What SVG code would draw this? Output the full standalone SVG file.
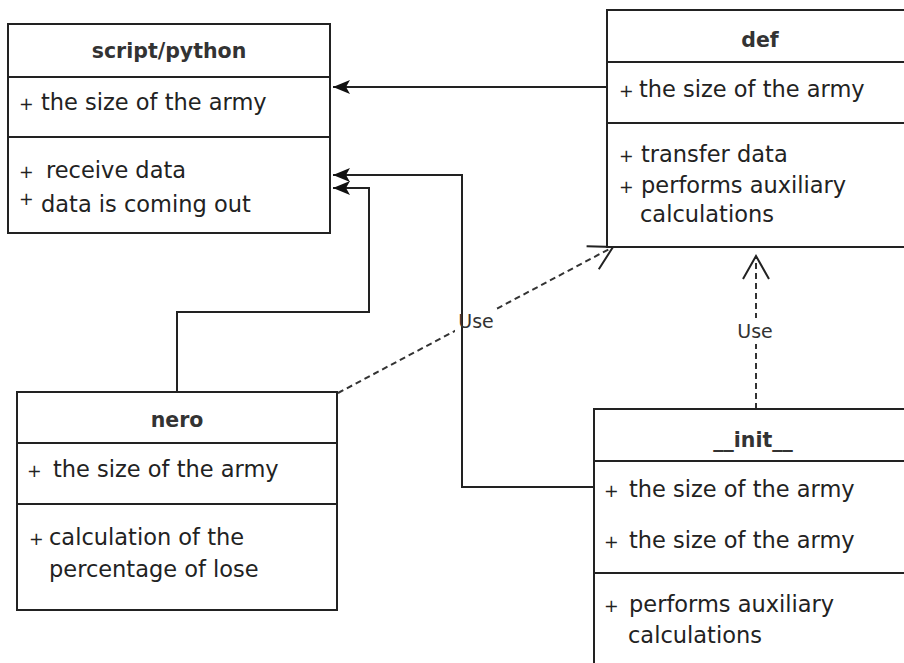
<svg xmlns="http://www.w3.org/2000/svg" width="904" height="663" viewBox="0 0 904 663">
<style>
.box{fill:#fff;stroke:#222;stroke-width:2}
.div{stroke:#222;stroke-width:2}
.title{font-family:"DejaVu Sans",sans-serif;font-weight:bold;font-size:20.5px;fill:#333;text-anchor:middle}
.item{font-family:"DejaVu Sans",sans-serif;font-size:22.5px;fill:#222}
.plus{font-family:"DejaVu Sans",sans-serif;font-size:17.5px;fill:#222}
.lbl{font-family:"DejaVu Sans",sans-serif;font-size:19px;fill:#333;text-anchor:middle}
.solid{fill:none;stroke:#222;stroke-width:2}
.dash{fill:none;stroke:#333;stroke-width:2;stroke-dasharray:6,4}
</style>
<defs>
<marker id="fa" markerWidth="20" markerHeight="16" refX="17" refY="8" orient="auto" markerUnits="userSpaceOnUse"><path d="M0,1 L17,8 L0,15 L4,8 z" fill="#111"/></marker>
<marker id="oa" markerWidth="30" markerHeight="30" refX="26" refY="15" orient="auto" markerUnits="userSpaceOnUse"><path d="M3,2 L26,15 L3,28" fill="none" stroke="#222" stroke-width="2" stroke-dasharray="none"/></marker>
</defs>
<rect width="904" height="663" fill="#fff"/>

<g id="connectors">
<path class="dash" d="M338,393 L613,247" marker-end="url(#oa)"/>
<path class="dash" d="M756,409 V256" marker-end="url(#oa)"/>
<rect x="455" y="308" width="42" height="26" fill="#fff"/>
<rect x="736" y="318" width="40" height="26" fill="#fff"/>
<path class="solid" d="M607,87 H333" marker-end="url(#fa)"/>
<path class="solid" d="M594,487 H462 V175 H333" marker-end="url(#fa)"/>
<path class="solid" d="M177,392 V312 H369 V188 H333" marker-end="url(#fa)"/>
<text class="lbl" x="476" y="328">Use</text>
<text class="lbl" x="755" y="338">Use</text>
</g>

<g id="script-python">
<rect class="box" x="8" y="24" width="322" height="209"/>
<line class="div" x1="8" y1="77" x2="330" y2="77"/>
<line class="div" x1="8" y1="137" x2="330" y2="137"/>
<text class="title" x="169" y="58">script/python</text>
<text class="plus" x="19" y="110">+</text><text class="item" x="41" y="110">the size of the army</text>
<text class="plus" x="19" y="178">+</text><text class="item" x="46" y="178">receive data</text>
<text class="plus" x="19" y="205">+</text><text class="item" x="41" y="212">data is coming out</text>
</g>

<g id="def">
<rect class="box" x="607" y="10" width="310" height="237"/>
<line class="div" x1="607" y1="62" x2="917" y2="62"/>
<line class="div" x1="607" y1="123" x2="917" y2="123"/>
<text class="title" x="760" y="47">def</text>
<text class="plus" x="619" y="97">+</text><text class="item" x="639" y="97">the size of the army</text>
<text class="plus" x="619" y="162">+</text><text class="item" x="641" y="162">transfer data</text>
<text class="plus" x="619" y="193">+</text><text class="item" x="641" y="193">performs auxiliary</text>
<text class="item" x="640" y="222">calculations</text>
</g>

<g id="nero">
<rect class="box" x="17" y="392" width="320" height="218"/>
<line class="div" x1="17" y1="443" x2="337" y2="443"/>
<line class="div" x1="17" y1="504" x2="337" y2="504"/>
<text class="title" x="177" y="427">nero</text>
<text class="plus" x="27" y="477">+</text><text class="item" x="53" y="477">the size of the army</text>
<text class="plus" x="29" y="545">+</text><text class="item" x="49" y="545">calculation of the</text>
<text class="item" x="49" y="577">percentage of lose</text>
</g>

<g id="init">
<rect class="box" x="594" y="409" width="320" height="262"/>
<line class="div" x1="594" y1="461" x2="914" y2="461"/>
<line class="div" x1="594" y1="573" x2="914" y2="573"/>
<text class="title" x="753" y="447">__init__</text>
<text class="plus" x="604" y="497">+</text><text class="item" x="629" y="497">the size of the army</text>
<text class="plus" x="604" y="548">+</text><text class="item" x="629" y="548">the size of the army</text>
<text class="plus" x="604" y="612">+</text><text class="item" x="629" y="612">performs auxiliary</text>
<text class="item" x="628" y="643">calculations</text>
</g>
</svg>
